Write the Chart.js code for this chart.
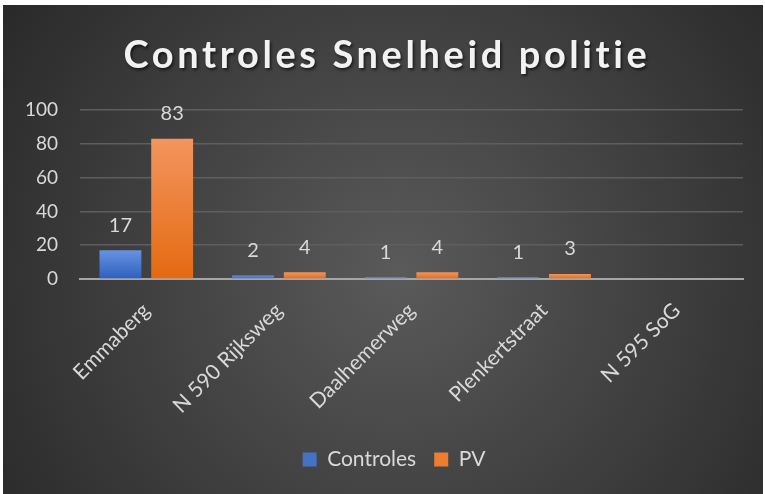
<!DOCTYPE html>
<html>
<head>
<meta charset="utf-8">
<script src="https://cdn.jsdelivr.net/npm/chart.js@4"></script>
<style>
  html, body { margin: 0; padding: 0; background: #fff; }
  #wrap { position: absolute; left: 3px; top: 5px; width: 760px; height: 489px; }
</style>
</head>
<body>
<div id="wrap"><canvas id="grafiek"></canvas></div>
<script>
// gegevens
var locaties  = ['Emmaberg', 'N 590 Rijksweg', 'Daalhemerweg', 'Plenkertstraat', 'N 595 SoG'];
var controles = [17, 2, 1, 1, null];
var pv        = [83, 4, 4, 3, null];
var titel     = 'Controles Snelheid politie';

var tekstKleur = '#d9d9d9';
var fontNaam   = 'Lato, "Open Sans", sans-serif';

// verloop per staaf: licht boven, donker onder
function staafKleur(boven, onder) {
  return function (ctx) {
    var chart = ctx.chart;
    if (!chart.chartArea || ctx.raw == null) return onder;
    var y = chart.scales.y;
    var top = y.getPixelForValue(ctx.raw);
    var bodem = y.getPixelForValue(0);
    if (bodem - top < 1) return boven;
    var g = chart.ctx.createLinearGradient(0, top, 0, bodem);
    g.addColorStop(0, boven);
    g.addColorStop(1, onder);
    return g;
  };
}

var achtergrond = {
  id: 'achtergrond',
  beforeDraw: function (chart) {
    var c = chart.ctx, w = chart.width, h = chart.height;
    var g = c.createRadialGradient(w * 0.52, h * 0.55, 0, w * 0.52, h * 0.55, w * 0.62);
    g.addColorStop(0, '#5a5a5a');
    g.addColorStop(1, '#2a2a2a');
    c.save();
    c.fillStyle = g;
    c.fillRect(0, 0, w, h);
    c.restore();
  }
};

// legenda staat in het origineel iets rechts van het midden
var legendaSchuif = {
  id: 'legendaSchuif',
  afterLayout: function (chart) {
    if (!chart.legend) return;
    chart.legend.left += 21;
    chart.legend.right += 21;
  }
};

var kop = {
  id: 'kop',
  afterDraw: function (chart) {
    var c = chart.ctx;
    c.save();
    c.font = 'bold 38px ' + fontNaam;
    c.letterSpacing = '3.6px';
    c.textAlign = 'center';
    c.textBaseline = 'alphabetic';
    c.shadowColor = 'rgba(0,0,0,0.6)';
    c.shadowOffsetX = 1.5;
    c.shadowOffsetY = 2;
    c.shadowBlur = 3;
    c.fillStyle = '#f2f2f2';
    c.fillText(titel, chart.width / 2 + 4, 63);
    c.restore();
  }
};

var waardes = {
  id: 'waardes',
  afterDatasetsDraw: function (chart) {
    var c = chart.ctx;
    c.save();
    c.font = '20px ' + fontNaam;
    c.fillStyle = tekstKleur;
    c.textAlign = 'center';
    c.textBaseline = 'middle';
    chart.data.datasets.forEach(function (ds, i) {
      chart.getDatasetMeta(i).data.forEach(function (bar, j) {
        if (ds.data[j] == null) return;
        c.fillText(ds.data[j], bar.x, bar.y - 25);
      });
    });
    c.restore();
  }
};

new Chart(document.getElementById('grafiek'), {
  type: 'bar',
  data: {
    labels: locaties,
    datasets: [
      {
        label: 'Controles',
        data: controles,
        backgroundColor: staafKleur('#6793e0', '#2e5fbf'),
        legendKleur: '#4472c4'
      },
      {
        label: 'PV',
        data: pv,
        backgroundColor: staafKleur('#f3955e', '#e46a12'),
        legendKleur: '#ed7d31'
      }
    ]
  },
  options: {
    responsive: true,
    maintainAspectRatio: false,
    animation: false,
    categoryPercentage: 0.78,
    barPercentage: 0.81,
    layout: { padding: { top: 105, right: 20, bottom: 14, left: 0 } },
    plugins: {
      title: { display: false },
      tooltip: { enabled: false },
      legend: {
        position: 'bottom',
        labels: {
          color: tekstKleur,
          font: { family: fontNaam, size: 21 },
          boxWidth: 14,
          boxHeight: 14,
          padding: 18,
          generateLabels: function (chart) {
            return chart.data.datasets.map(function (ds, i) {
              return {
                text: ds.label,
                fillStyle: ds.legendKleur,
                strokeStyle: ds.legendKleur,
                lineWidth: 0,
                fontColor: tekstKleur,
                datasetIndex: i
              };
            });
          }
        }
      }
    },
    scales: {
      x: {
        grid: { display: false },
        border: { color: '#a6a6a6', width: 2 },
        ticks: {
          color: tekstKleur,
          font: { family: fontNaam, size: 21 },
          maxRotation: 45,
          minRotation: 45,
          padding: 11
        },
        afterFit: function (s) { s.height = 152; }
      },
      y: {
        min: 0,
        max: 100,
        border: { display: false },
        grid: {
          color: '#5e5e5e',
          lineWidth: 1.5,
          drawTicks: false
        },
        ticks: {
          stepSize: 20,
          color: tekstKleur,
          font: { family: fontNaam, size: 19 },
          padding: 22
        },
        afterFit: function (s) { s.width = 77; }
      }
    }
  },
  plugins: [achtergrond, legendaSchuif, kop, waardes]
});
</script>
</body>
</html>
